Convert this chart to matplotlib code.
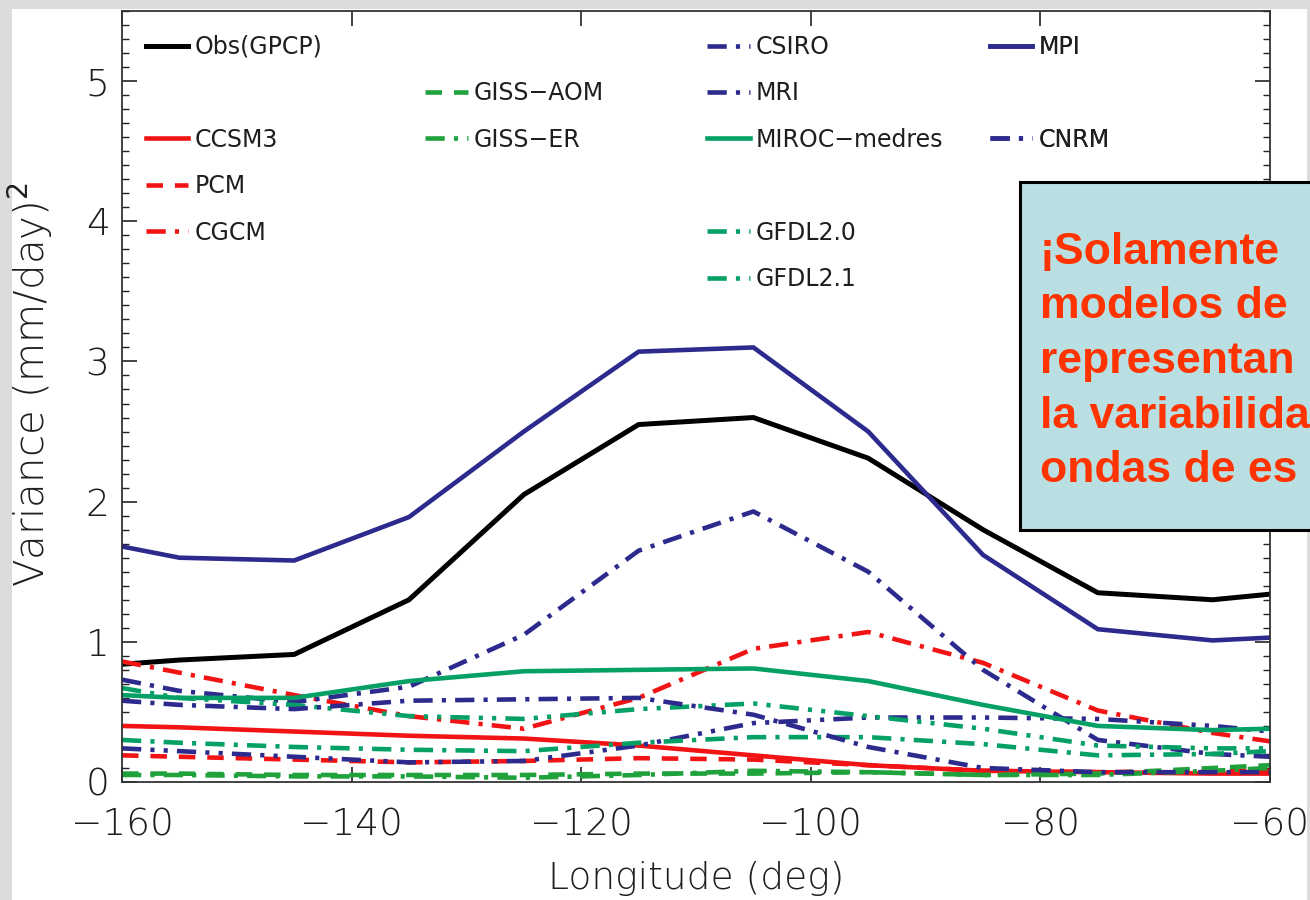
import numpy as np
import matplotlib.pyplot as plt
from matplotlib.lines import Line2D
from matplotlib.patches import Rectangle
from matplotlib.ticker import MultipleLocator

# longitudes of the bin centres, plus the two plot edges
lon = [-160, -155, -145, -135, -125, -115, -105, -95, -85, -75, -65, -60]

obs_gpcp = [0.84, 0.87, 0.91, 1.30, 2.05, 2.55, 2.60, 2.31, 1.80, 1.35, 1.30, 1.34]
mpi      = [1.68, 1.60, 1.58, 1.89, 2.50, 3.07, 3.10, 2.50, 1.62, 1.09, 1.01, 1.03]
csiro    = [0.73, 0.65, 0.57, 0.68, 1.05, 1.65, 1.93, 1.50, 0.80, 0.30, 0.20, 0.18]
mri      = [0.24, 0.22, 0.18, 0.14, 0.15, 0.26, 0.42, 0.46, 0.46, 0.45, 0.40, 0.36]
cnrm     = [0.58, 0.55, 0.52, 0.58, 0.59, 0.60, 0.48, 0.25, 0.10, 0.07, 0.07, 0.07]
ccsm3    = [0.40, 0.39, 0.36, 0.33, 0.31, 0.26, 0.19, 0.12, 0.08, 0.07, 0.06, 0.06]
pcm      = [0.19, 0.18, 0.16, 0.14, 0.15, 0.17, 0.16, 0.12, 0.08, 0.07, 0.08, 0.08]
cgcm     = [0.86, 0.78, 0.62, 0.47, 0.38, 0.60, 0.95, 1.07, 0.85, 0.51, 0.35, 0.29]
giss_aom = [0.06, 0.06, 0.05, 0.05, 0.05, 0.06, 0.06, 0.07, 0.05, 0.06, 0.10, 0.12]
giss_er  = [0.05, 0.05, 0.04, 0.04, 0.03, 0.05, 0.08, 0.07, 0.05, 0.05, 0.08, 0.10]
miroc    = [0.62, 0.60, 0.60, 0.72, 0.79, 0.80, 0.81, 0.72, 0.55, 0.40, 0.37, 0.38]
gfdl20   = [0.30, 0.28, 0.25, 0.23, 0.22, 0.28, 0.32, 0.32, 0.27, 0.19, 0.20, 0.22]
gfdl21   = [0.67, 0.60, 0.55, 0.47, 0.45, 0.52, 0.56, 0.47, 0.38, 0.26, 0.24, 0.24]

# visible part of the note (the slide cuts it at the right edge)
box_lines = ["¡Solamente", "modelos de", "representan", "la variabilida", "ondas de es"]

RED = '#f21414'
GREEN1 = '#1fa23c'
GREEN2 = '#04a065'
NAVY = '#2d2a8e'
TXT = '#1e1e1e'

solid = '-'
dashed = (0, (3.6, 2.6))
dashdot = (0, (4.2, 2.0, 0.9, 2.0))
dashdotdot = (0, (4.2, 2.0, 0.9, 2.0, 0.9, 2.0))

fig = plt.figure(figsize=(13.1, 9), dpi=100, facecolor='#dcdcdc')
fig.add_artist(Rectangle((12 / 1310, 0), 1295 / 1310, 891 / 900,
                         transform=fig.transFigure, facecolor='white',
                         edgecolor='none', zorder=-10))

ax = fig.add_axes([122 / 1310, 118 / 900, 1148 / 1310, 771 / 900])

lw = 3.3
l_obs, = ax.plot(lon, obs_gpcp, color='black', lw=lw + 0.3, ls=solid, label='Obs(GPCP)')
l_ccsm, = ax.plot(lon, ccsm3, color=RED, lw=lw, ls=solid, label='CCSM3')
l_pcm, = ax.plot(lon, pcm, color=RED, lw=lw, ls=dashed, label='PCM')
l_cgcm, = ax.plot(lon, cgcm, color=RED, lw=lw, ls=dashdot, label='CGCM')
l_aom, = ax.plot(lon, giss_aom, color=GREEN1, lw=lw, ls=dashed, label='GISS\u2212AOM')
l_er, = ax.plot(lon, giss_er, color=GREEN1, lw=lw, ls=dashdot, label='GISS\u2212ER')
l_csiro, = ax.plot(lon, csiro, color=NAVY, lw=lw, ls=dashdot, label='CSIRO')
l_mri, = ax.plot(lon, mri, color=NAVY, lw=lw, ls=dashdotdot, label='MRI')
l_miroc, = ax.plot(lon, miroc, color=GREEN2, lw=lw, ls=solid, label='MIROC\u2212medres')
l_g20, = ax.plot(lon, gfdl20, color=GREEN2, lw=lw, ls=dashdot, label='GFDL2.0')
l_g21, = ax.plot(lon, gfdl21, color=GREEN2, lw=lw, ls=dashdotdot, label='GFDL2.1')
l_mpi, = ax.plot(lon, mpi, color=NAVY, lw=lw, ls=solid, label='MPI')
l_cnrm, = ax.plot(lon, cnrm, color=NAVY, lw=lw, ls=dashdot, label='CNRM')

ax.set_xlim(-160, -60)
ax.set_ylim(0, 5.5)
ax.xaxis.set_major_locator(MultipleLocator(20))
ax.yaxis.set_major_locator(MultipleLocator(1))
ax.yaxis.set_minor_locator(MultipleLocator(0.1))
ax.tick_params(which='both', direction='in', top=True, right=True, color='#222222')
ax.tick_params(which='major', length=11, width=1.2)
ax.tick_params(which='minor', length=5, width=1.0)
ax.tick_params(axis='x', which='major', labelsize=27, pad=18, labelcolor=TXT)
ax.tick_params(axis='y', which='major', labelsize=27, pad=9, labelcolor=TXT)
for lab in ax.get_xticklabels() + ax.get_yticklabels():
    lab.set_fontweight('light')
for s in ax.spines.values():
    s.set_linewidth(1.3)
    s.set_color('#333333')

ax.set_xlabel('Longitude (deg)', fontsize=27, color=TXT, labelpad=14, fontweight='light')
ax.set_ylabel('Variance (mm/day)$^2$', fontsize=29, color=TXT, fontweight='light')
ax.yaxis.set_label_coords(-0.058, 0.515)

# legend laid out in four separate columns, with empty slots
blank = Line2D([], [], color='none', label=' ')
columns = [
    ([l_obs, blank, l_ccsm, l_pcm, l_cgcm], 0.0209),
    ([blank, l_aom, l_er], 0.264),
    ([l_csiro, l_mri, l_miroc, blank, l_g20, l_g21], 0.5096),
    ([l_mpi, blank, l_cnrm], 0.756),
]
for handles, xpos in columns:
    leg = ax.legend(handles=handles, labels=[h.get_label() for h in handles],
                    loc='upper left', bbox_to_anchor=(xpos, 0.969),
                    frameon=False, fontsize=17, borderpad=0, borderaxespad=0,
                    labelspacing=0.95, handlelength=1.8, handletextpad=0.25)
    for t in leg.get_texts():
        t.set_color(TXT)
    ax.add_artist(leg)

# annotation box cut by the right edge
fig.add_artist(Rectangle((1020 / 1310, 1 - 530 / 900), 0.3, (530 - 182) / 900,
                         transform=fig.transFigure, facecolor='#b9dfe2',
                         edgecolor='black', lw=2.2, zorder=5))
for i, line in enumerate(box_lines):
    fig.text(1040 / 1310, 1 - (264 + 54.5 * i) / 900, line, family='Liberation Sans',
             fontweight='bold', fontsize=32, color='#ff3300', va='baseline',
             ha='left', zorder=6)

fig.savefig('out.png', dpi=100, facecolor=fig.get_facecolor())
